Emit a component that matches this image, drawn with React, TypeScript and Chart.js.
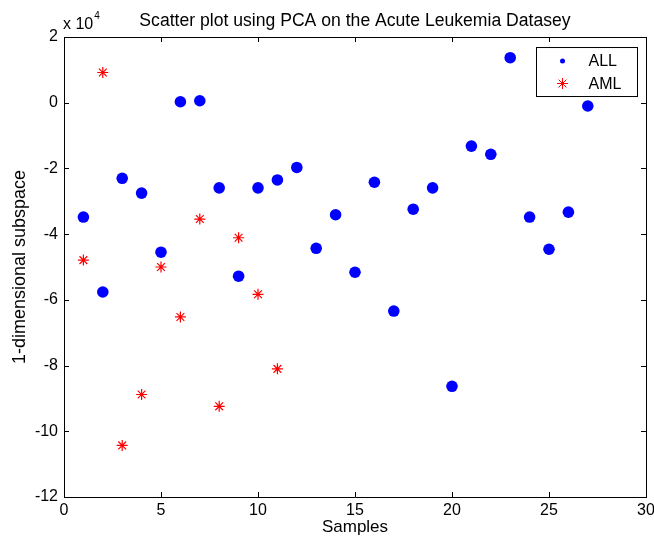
import React, { useEffect, useRef } from "react";
import { Chart, registerables } from "chart.js";

Chart.register(...registerables);

// values in units of 10^4
const allSamples = [1,2,3,4,5,6,7,8,9,10,11,12,13,14,15,16,17,18,19,20,21,22,23,24,25,26,27];
const allValues = [-3.48,-5.76,-2.30,-2.75,-4.55,0.03,0.06,-2.59,-5.28,-2.59,-2.35,-1.97,-4.43,-3.41,-5.16,-2.42,-6.34,-3.24,-2.59,-8.63,-1.32,-1.57,1.37,-3.48,-4.46,-3.33,-0.10];
const amlSamples = [1,2,3,4,5,6,7,8,9,10,11];
const amlValues = [-4.79,0.92,-10.43,-8.88,-5.00,-6.52,-3.54,-9.24,-4.11,-5.83,-8.10];

const titleText = "Scatter plot using PCA on the Acute Leukemia Datasey";
const xLabel = "Samples";
const yLabel = "1-dimensional subspace";
const FONT = "'Liberation Sans', Arial, Helvetica, sans-serif";

const matlabPlugin = {
  id: "matlabBox",
  afterDraw(chart: any) {
    const ctx = chart.ctx;
    const { left, right, top, bottom } = chart.chartArea;
    const xs = chart.scales.x;
    const ys = chart.scales.y;
    ctx.save();
    ctx.strokeStyle = "#000";
    ctx.lineWidth = 1;
    // box
    ctx.beginPath();
    ctx.moveTo(left + 0.5, top + 0.5);
    ctx.lineTo(right + 0.5, top + 0.5);
    ctx.lineTo(right + 0.5, bottom + 0.5);
    ctx.stroke();
    const tl = 5;
    ctx.beginPath();
    xs.ticks.forEach((t: any) => {
      const px = Math.round(xs.getPixelForValue(t.value)) + 0.5;
      ctx.moveTo(px, bottom);
      ctx.lineTo(px, bottom - tl);
      ctx.moveTo(px, top);
      ctx.lineTo(px, top + tl);
    });
    ys.ticks.forEach((t: any) => {
      const py = Math.round(ys.getPixelForValue(t.value)) + 0.5;
      ctx.moveTo(left, py);
      ctx.lineTo(left + tl, py);
      ctx.moveTo(right, py);
      ctx.lineTo(right - tl, py);
    });
    ctx.stroke();

    // exponent label
    ctx.fillStyle = "#000";
    ctx.textBaseline = "alphabetic";
    ctx.textAlign = "left";
    ctx.font = `16px ${FONT}`;
    const ex = left - 1;
    const ey = top - 8;
    ctx.fillText("x 10", ex, ey);
    const w = ctx.measureText("x 10").width;
    ctx.font = `10px ${FONT}`;
    ctx.fillText("4", ex + w + 1, ey - 10);

    // legend
    const bx = right - 109.5;
    const by = top + 10.5;
    const bw = 101;
    const bh = 49;
    ctx.fillStyle = "#fff";
    ctx.fillRect(bx, by, bw, bh);
    ctx.strokeStyle = "#000";
    ctx.strokeRect(bx, by, bw, bh);
    const mx = bx + 26;
    const y1 = by + 13.5;
    const y2 = by + 36;
    ctx.fillStyle = "#0000ff";
    ctx.beginPath();
    ctx.arc(mx, y1, 2.5, 0, Math.PI * 2);
    ctx.fill();
    ctx.strokeStyle = "#ff0000";
    ctx.beginPath();
    const r = 5.5;
    ctx.moveTo(mx - r, y2); ctx.lineTo(mx + r, y2);
    ctx.moveTo(mx, y2 - r); ctx.lineTo(mx, y2 + r);
    const d = r * Math.SQRT1_2;
    ctx.moveTo(mx - d, y2 - d); ctx.lineTo(mx + d, y2 + d);
    ctx.moveTo(mx - d, y2 + d); ctx.lineTo(mx + d, y2 - d);
    ctx.stroke();
    ctx.fillStyle = "#000";
    ctx.font = `16px ${FONT}`;
    ctx.textBaseline = "middle";
    const labels = chart.data.datasets.map((ds: any) => ds.label);
    ctx.fillText(labels[0], bx + 52, y1 + 1);
    ctx.fillText(labels[1], bx + 52, y2 + 1);
    ctx.restore();
  },
};

export default function App() {
  const ref = useRef<HTMLCanvasElement | null>(null);
  useEffect(() => {
    document.body.style.margin = "0";
    const canvas = ref.current;
    if (!canvas) return;
    const chart = new Chart(canvas, {
      type: "scatter",
      data: {
        datasets: [
          {
            label: "ALL",
            data: allSamples.map((x, i) => ({ x, y: allValues[i] })),
            pointStyle: "circle",
            pointRadius: 5.8,
            backgroundColor: "#0000ff",
            borderColor: "#0000ff",
            borderWidth: 0,
          },
          {
            label: "AML",
            data: amlSamples.map((x, i) => ({ x, y: amlValues[i] })),
            pointStyle: "star",
            pointRadius: 5.5,
            backgroundColor: "#ff0000",
            borderColor: "#ff0000",
            borderWidth: 1.2,
          },
        ],
      },
      options: {
        responsive: false,
        animation: false,
        layout: { padding: { left: 0, right: 8, top: 0, bottom: 0 } },
        plugins: {
          legend: { display: false },
          tooltip: { enabled: false },
          title: {
            display: true,
            text: titleText,
            fullSize: false,
            color: "#000",
            font: { family: FONT, size: 17.6, weight: "normal" },
            padding: { top: 10.5, bottom: 5.4 },
          },
        },
        scales: {
          x: {
            type: "linear",
            min: 0,
            max: 30,
            afterFit: (s: any) => { s.height = 41; s.paddingLeft = 0; s.paddingRight = 0; },
            grid: { display: false, drawTicks: false },
            border: { display: true, color: "#000", width: 1 },
            ticks: {
              stepSize: 5,
              color: "#000",
              padding: 4,
              font: { family: FONT, size: 16 },
            },
            title: {
              display: true,
              text: xLabel,
              color: "#000",
              font: { family: FONT, size: 17 },
              padding: { top: 0, bottom: 0 },
            },
          },
          y: {
            type: "linear",
            min: -12,
            max: 2,
            afterFit: (s: any) => { s.width = 64; s.paddingTop = 0; s.paddingBottom = 0; },
            grid: { display: false, drawTicks: false },
            border: { display: true, color: "#000", width: 1 },
            ticks: {
              stepSize: 2,
              color: "#000",
              padding: 6,
              font: { family: FONT, size: 16 },
            },
            title: {
              display: true,
              text: yLabel,
              color: "#000",
              font: { family: FONT, size: 18 },
              padding: { top: 9, bottom: 0 },
            },
          },
        },
      },
      plugins: [matlabPlugin],
    });
    return () => chart.destroy();
  }, []);
  return (
    <div style={{ width: 654, height: 538, background: "#fff" }}>
      <canvas ref={ref} width={654} height={538} />
    </div>
  );
}
